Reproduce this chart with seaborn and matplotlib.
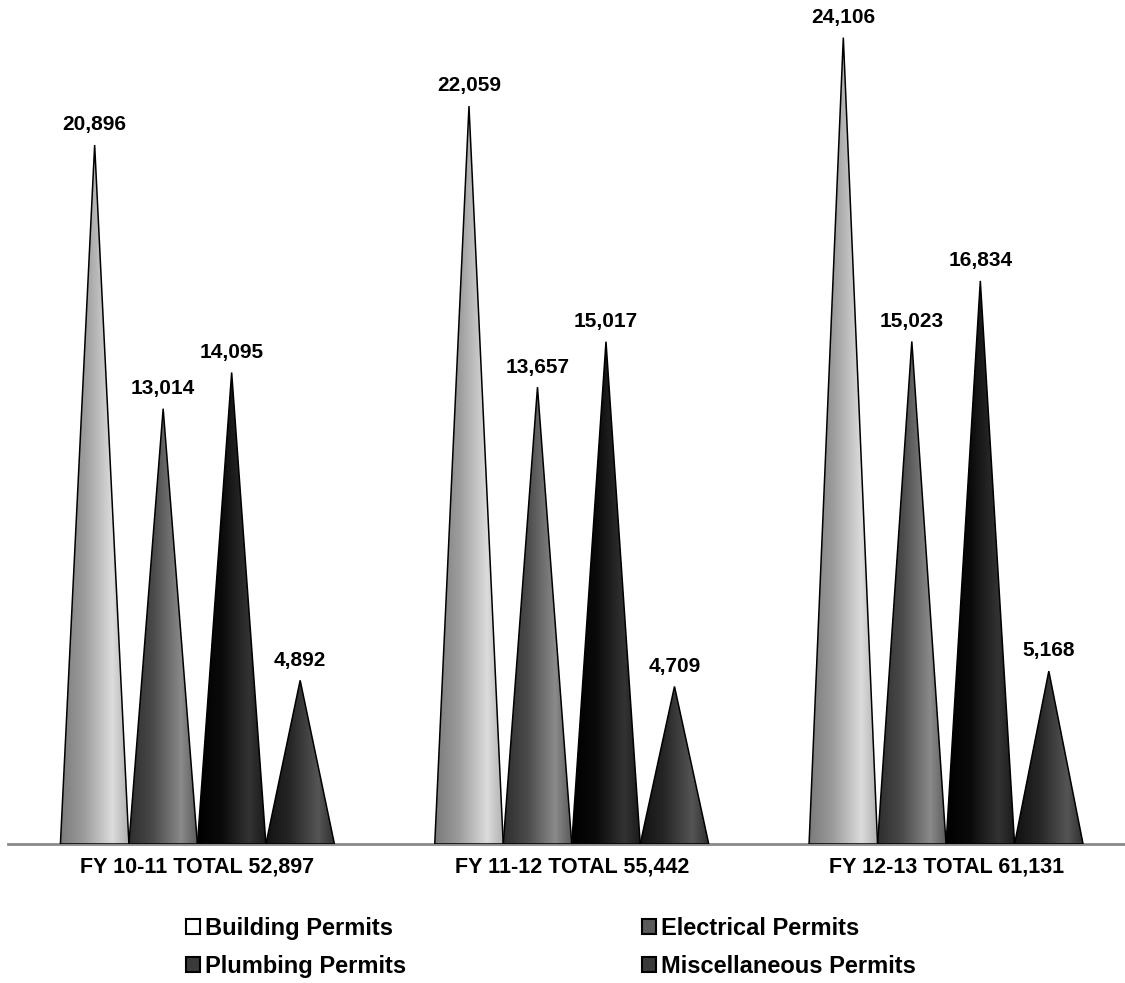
import numpy as np
import pandas as pd
import matplotlib
matplotlib.use("Agg")
import matplotlib.pyplot as plt
import seaborn as sns
from matplotlib.patches import Polygon, Patch
from matplotlib.colors import LinearSegmentedColormap

# ---- data ----
groups = ["FY 10-11 TOTAL 52,897", "FY 11-12 TOTAL 55,442", "FY 12-13 TOTAL 61,131"]
series = ["Building Permits", "Electrical Permits", "Plumbing Permits", "Miscellaneous Permits"]
building = [20896, 22059, 24106]
electrical = [13014, 13657, 15023]
plumbing = [14095, 15017, 16834]
misc = [4892, 4709, 5168]

values = {"Building Permits": building, "Electrical Permits": electrical,
          "Plumbing Permits": plumbing, "Miscellaneous Permits": misc}
rows = []
for s in series:
    for g, v in zip(groups, values[s]):
        rows.append({"group": g, "series": s, "value": v})
df = pd.DataFrame(rows)

# ---- styling ----
sns.set_theme(style="white")
plt.rcParams["font.family"] = ["Liberation Sans", "DejaVu Sans"]
plt.rcParams["text.color"] = "black"

cone_stops = {
    "Building Permits": ["#7a7a7a", "#9c9c9c", "#dcdcdc", "#b0b0b0"],
    "Electrical Permits": ["#2e2e2e", "#4a4a4a", "#8a8a8a", "#5a5a5a"],
    "Plumbing Permits": ["#000000", "#0a0a0a", "#333333", "#1a1a1a"],
    "Miscellaneous Permits": ["#121212", "#262626", "#555555", "#2e2e2e"],
}
legend_fc = {
    "Building Permits": "white",
    "Electrical Permits": "#5a5a5a",
    "Plumbing Permits": "#3a3a3a",
    "Miscellaneous Permits": "#3a3a3a",
}

W, H = 1125, 983
fig = plt.figure(figsize=(W / 100, H / 100), dpi=100)
ax = fig.add_axes([8 / W, (H - 844) / H, 1 - 8 / W, 844 / H])

sns.barplot(data=df, x="group", y="value", hue="series", order=groups,
            hue_order=series, width=0.732, errorbar=None, saturation=1,
            palette=[legend_fc[s] for s in series], legend=False, ax=ax)

grad = np.linspace(0, 1, 256).reshape(1, -1)
for s, cont in zip(series, ax.containers):
    cmap = LinearSegmentedColormap.from_list(
        s, list(zip([0.0, 0.35, 0.76, 1.0], cone_stops[s])))
    for bar in cont.patches:
        x0, w, h = bar.get_x(), bar.get_width(), bar.get_height()
        bar.set_visible(False)
        tri = Polygon([(x0, 0), (x0 + w, 0), (x0 + w / 2, h)], closed=True,
                      facecolor="none", edgecolor="black", lw=1.1, zorder=3)
        ax.add_patch(tri)
        im = ax.imshow(grad, cmap=cmap, aspect="auto", extent=[x0, x0 + w, 0, h],
                       interpolation="bilinear", zorder=2)
        im.set_clip_path(tri)
        ax.annotate(f"{h:,.0f}", xy=(x0 + w / 2, h), xytext=(0, 14.5),
                    textcoords="offset points", ha="center", va="center",
                    fontsize=15, fontweight="bold", color="black")

ax.set_xlim(-0.506, 2.478)
ax.set_ylim(0, 25230)
ax.set_yticks([])
ax.set_xlabel("")
ax.set_ylabel("")
for side in ["top", "left", "right"]:
    ax.spines[side].set_visible(False)
ax.spines["bottom"].set_color("#8a8a8a")
ax.spines["bottom"].set_linewidth(2)
ax.spines["bottom"].set_zorder(1)
ax.tick_params(axis="x", length=0, pad=9)
for lbl in ax.get_xticklabels():
    lbl.set_fontsize(15.5)
    lbl.set_fontweight("bold")
    lbl.set_color("black")

order = ["Building Permits", "Plumbing Permits", "Electrical Permits", "Miscellaneous Permits"]
handles = [Patch(facecolor=legend_fc[s], edgecolor="black", lw=1.5) for s in order]
leg = fig.legend(handles, order, loc="upper left", bbox_to_anchor=(186 / W, 1 - 917 / H),
                 ncol=2, frameon=False, prop={"size": 17, "weight": "bold"},
                 handlelength=0.6, handleheight=0.6, handletextpad=0.2,
                 columnspacing=10.0, labelspacing=0.62, borderpad=0, borderaxespad=0)
for t in leg.get_texts():
    t.set_color("black")

fig.savefig("out.png", dpi=100, facecolor="white")
